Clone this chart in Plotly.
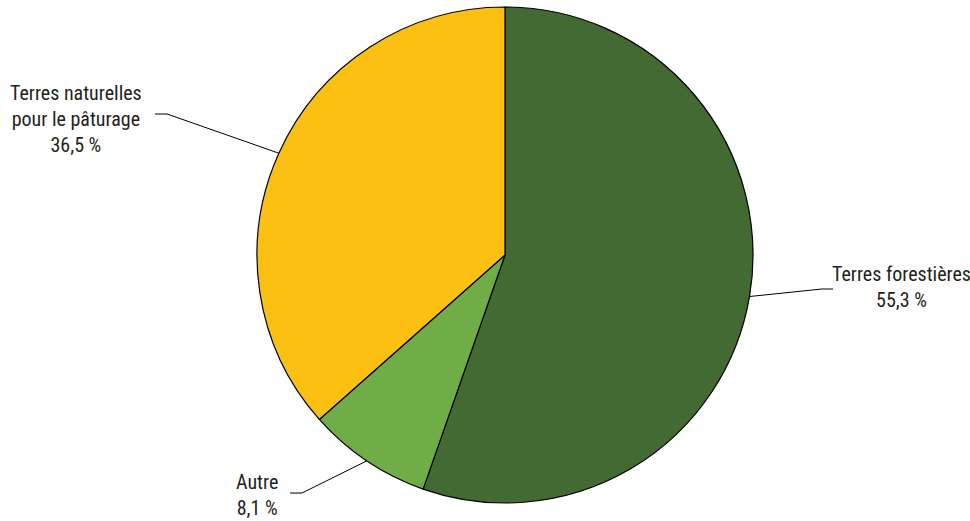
import math
import plotly.graph_objects as go

categories = ["Terres forestières", "Autre", "Terres naturelles<br>pour le pâturage"]
values = [55.3, 8.1, 36.5]
value_labels = ["55,3 %", "8,1 %", "36,5 %"]
colors = ["#436a33", "#70ad47", "#fbc012"]

W, H = 970, 521
cx, cy, R = 505, 255, 248

fig = go.Figure(go.Pie(
    labels=categories, values=values, sort=False, direction="clockwise", rotation=0,
    marker=dict(colors=colors, line=dict(color="black", width=1.2)),
    textinfo="none", showlegend=False,
    domain=dict(x=[(cx - R) / W, (cx + R) / W], y=[1 - (cy + R) / H, 1 - (cy - R) / H]),
))

def P(px, py):
    return px / W, 1 - py / H

# leader line geometry (elbow and end offsets) and label positions, in pixels
label_layout = [
    dict(elbow=(822, 289), end=(833, 289), text_xy=(901, 287)),
    dict(elbow=(302, 493), end=(290, 493), text_xy=(257, 495)),
    dict(elbow=(167, 114), end=(155, 114), text_xy=(76, 119)),
]

total = sum(values)
cum = 0
FONT = "Liberation Sans Narrow, Roboto Condensed, Arial Narrow, sans-serif"
for cat, v, vl, lay in zip(categories, values, value_labels, label_layout):
    mid = (cum + v / 2) / total * 2 * math.pi
    cum += v
    sx = cx + R * math.sin(mid)
    sy = cy - R * math.cos(mid)
    pts = [(sx, sy), lay["elbow"], lay["end"]]
    path = "M " + " L ".join(f"{P(*p)[0]},{P(*p)[1]}" for p in pts)
    fig.add_shape(type="path", path=path, xref="paper", yref="paper",
                  line=dict(color="black", width=1))
    tx, ty = P(*lay["text_xy"])
    fig.add_annotation(x=tx, y=ty, xref="paper", yref="paper", showarrow=False,
                       xanchor="center", yanchor="middle",
                       text=f"{cat}<br>{vl}", align="center",
                       font=dict(family=FONT, size=20, color="#231f20"))

fig.update_layout(width=W, height=H, margin=dict(l=0, r=0, t=0, b=0),
                  paper_bgcolor="white", plot_bgcolor="white")
fig.write_html("out.html", config={"displayModeBar": False},
               post_script="document.body.style.margin='0';")
